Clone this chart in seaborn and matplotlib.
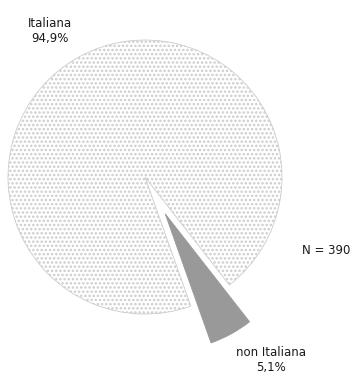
import matplotlib
matplotlib.use("Agg")
import matplotlib.pyplot as plt
import seaborn as sns

# Nationality breakdown of respondents
categories = ["Italiana", "non Italiana"]
counts = [370, 20]
total_n = 390

sns.set_theme(style="white")
plt.rcParams["font.family"] = ["DejaVu Sans"]
plt.rcParams["hatch.color"] = "#ababab"
plt.rcParams["hatch.linewidth"] = 1.2

W, H = 352, 386
fig = plt.figure(figsize=(W / 100, H / 100), dpi=100)
ax = fig.add_axes([0, 0, 1, 1])

wedges, _ = ax.pie(
    counts,
    center=(145, 209),
    radius=137,
    startangle=-52,
    counterclock=True,
    explode=[0, 42],
    colors=["white", "#999999"],
    wedgeprops=dict(linewidth=0.6),
)
wedges[0].set_hatch("....")
wedges[0].set_edgecolor("#cccccc")
wedges[1].set_edgecolor("#999999")

pct = [c / total_n * 100 for c in counts]
fmt = lambda p: f"{p:.1f}".replace(".", ",") + "%"

ax.text(50, 355, f"{categories[0]}\n{fmt(pct[0])}", ha="center", va="center",
        fontsize=8.5, color="#1a1a1a", linespacing=1.25)
ax.text(271, 26, f"{categories[1]}\n{fmt(pct[1])}", ha="center", va="center",
        fontsize=8.5, color="#1a1a1a", linespacing=1.25)
ax.text(326, 135, f"N = {total_n}", ha="center", va="center",
        fontsize=8.5, color="#1a1a1a")

ax.set_xlim(0, W)
ax.set_ylim(0, H)
ax.set_aspect("equal")
ax.axis("off")

fig.savefig("out.png", dpi=100)
